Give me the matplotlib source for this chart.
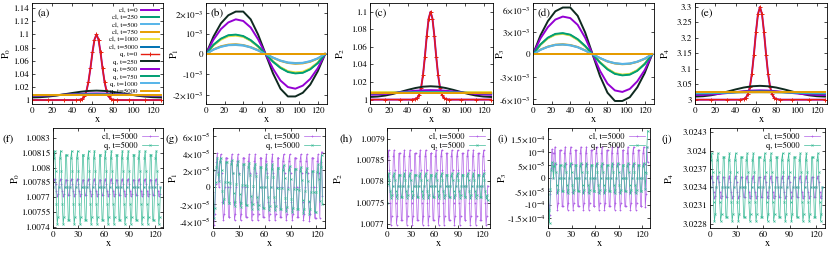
import numpy as np
import matplotlib.pyplot as plt

plt.rcParams['font.family'] = 'STIXGeneral'
plt.rcParams['mathtext.fontset'] = 'stix'

# ---------------- top row: profiles at several times ----------------
X_COARSE = [0, 8, 16, 24, 32, 40, 48, 56, 64, 72, 80, 88, 96, 104, 112, 120, 128]
X_PEAK = [0, 16, 32, 44, 48, 50, 52, 54, 56, 58, 60, 62, 64,
          66, 68, 70, 72, 74, 76, 78, 80, 84, 96, 112, 128]

LABELS = ['cl, t=0', 'cl, t=250', 'cl, t=500', 'cl, t=750', 'cl, t=1000', 'cl, t=5000',
          'q, t=0', 'q, t=250', 'q, t=500', 'q, t=750', 'q, t=1000', 'q, t=5000']
COLORS = ['#9400d3', '#009e73', '#56b4e9', '#e69f00', '#f0e442', '#0072b2',
          '#e51e10', '#0f2a20', '#9400d3', '#009e73', '#56b4e9', '#e69f00']

# (a) P0
A_Q0 = [1.0, 1.0, 1.0, 1.0, 1.0006, 1.002, 1.0056, 1.0135, 1.0278, 1.0487, 1.0726, 1.0923, 1.1,
        1.0923, 1.0726, 1.0487, 1.0278, 1.0135, 1.0056, 1.002, 1.0006, 1.0, 1.0, 1.0, 1.0]
A_CL250 = [1.0068, 1.0069, 1.0072, 1.0076, 1.0080, 1.0084, 1.0088, 1.0090, 1.0091,
           1.0090, 1.0088, 1.0084, 1.0080, 1.0076, 1.0072, 1.0069, 1.0068]
A_CL500 = [1.0074, 1.0074, 1.0075, 1.0077, 1.0079, 1.0081, 1.0083, 1.0084, 1.0084,
           1.0084, 1.0083, 1.0081, 1.0079, 1.0077, 1.0075, 1.0074, 1.0074]
A_CL750 = [1.0077, 1.0077, 1.0077, 1.0078, 1.0078, 1.0079, 1.0080, 1.0080, 1.0080,
           1.0080, 1.0080, 1.0079, 1.0078, 1.0078, 1.0077, 1.0077, 1.0077]
A_CL1000 = [1.0084, 1.0084, 1.0084, 1.0084, 1.0084, 1.0084, 1.0084, 1.0084, 1.0084,
            1.0084, 1.0084, 1.0084, 1.0084, 1.0084, 1.0084, 1.0084, 1.0084]
A_CL5000 = [1.0078, 1.0078, 1.0078, 1.0078, 1.0078, 1.0078, 1.0078, 1.0078, 1.0078,
            1.0078, 1.0078, 1.0078, 1.0078, 1.0078, 1.0078, 1.0078, 1.0078]
A_Q250 = [1.0040, 1.0044, 1.0053, 1.0068, 1.0088, 1.0108, 1.0126, 1.0139, 1.0144,
          1.0139, 1.0126, 1.0108, 1.0088, 1.0068, 1.0053, 1.0044, 1.0040]
A_Q500 = [1.0063, 1.0065, 1.0069, 1.0075, 1.0082, 1.0089, 1.0095, 1.0099, 1.0101,
          1.0099, 1.0095, 1.0089, 1.0082, 1.0075, 1.0069, 1.0065, 1.0063]
A_Q750 = [1.0072, 1.0073, 1.0074, 1.0076, 1.0079, 1.0082, 1.0084, 1.0086, 1.0086,
          1.0086, 1.0084, 1.0082, 1.0079, 1.0076, 1.0074, 1.0073, 1.0072]
A_Q1000 = [1.0076, 1.0076, 1.0077, 1.0077, 1.0078, 1.0079, 1.0080, 1.0081, 1.0081,
           1.0081, 1.0080, 1.0079, 1.0078, 1.0077, 1.0077, 1.0076, 1.0076]
A_Q5000 = [1.0078, 1.0078, 1.0078, 1.0078, 1.0078, 1.0078, 1.0078, 1.0078, 1.0078,
           1.0078, 1.0078, 1.0078, 1.0078, 1.0078, 1.0078, 1.0078, 1.0078]

# (c) P2
C_Q0 = [1.0, 1.0, 1.0, 1.0, 1.0006, 1.002, 1.0056, 1.0135, 1.0278, 1.0487, 1.0726, 1.0923, 1.1,
        1.0923, 1.0726, 1.0487, 1.0278, 1.0135, 1.0056, 1.002, 1.0006, 1.0, 1.0, 1.0, 1.0]
C_CL250 = [1.0067, 1.0068, 1.0071, 1.0076, 1.0080, 1.0085, 1.0089, 1.0091, 1.0092,
           1.0091, 1.0089, 1.0085, 1.0080, 1.0076, 1.0071, 1.0068, 1.0067]
C_CL500 = [1.0073, 1.0074, 1.0075, 1.0077, 1.0079, 1.0081, 1.0083, 1.0084, 1.0085,
           1.0084, 1.0083, 1.0081, 1.0079, 1.0077, 1.0075, 1.0074, 1.0073]
C_CL750 = [1.0077, 1.0077, 1.0077, 1.0078, 1.0078, 1.0079, 1.0080, 1.0080, 1.0080,
           1.0080, 1.0080, 1.0079, 1.0078, 1.0078, 1.0077, 1.0077, 1.0077]
C_CL1000 = [1.0085, 1.0085, 1.0085, 1.0085, 1.0085, 1.0085, 1.0085, 1.0085, 1.0085,
            1.0085, 1.0085, 1.0085, 1.0085, 1.0085, 1.0085, 1.0085, 1.0085]
C_CL5000 = [1.0078, 1.0078, 1.0078, 1.0078, 1.0078, 1.0078, 1.0078, 1.0078, 1.0078,
            1.0078, 1.0078, 1.0078, 1.0078, 1.0078, 1.0078, 1.0078, 1.0078]
C_Q250 = [1.0030, 1.0035, 1.0046, 1.0064, 1.0087, 1.0111, 1.0132, 1.0147, 1.0152,
          1.0147, 1.0132, 1.0111, 1.0087, 1.0064, 1.0046, 1.0035, 1.0030]
C_Q500 = [1.0055, 1.0058, 1.0064, 1.0073, 1.0083, 1.0093, 1.0101, 1.0106, 1.0108,
          1.0106, 1.0101, 1.0093, 1.0083, 1.0073, 1.0064, 1.0058, 1.0055]
C_Q750 = [1.0071, 1.0072, 1.0074, 1.0076, 1.0079, 1.0082, 1.0085, 1.0087, 1.0087,
          1.0087, 1.0085, 1.0082, 1.0079, 1.0076, 1.0074, 1.0072, 1.0071]
C_Q1000 = [1.0076, 1.0076, 1.0077, 1.0077, 1.0078, 1.0079, 1.0080, 1.0081, 1.0081,
           1.0081, 1.0080, 1.0079, 1.0078, 1.0077, 1.0077, 1.0076, 1.0076]
C_Q5000 = [1.0078, 1.0078, 1.0078, 1.0078, 1.0078, 1.0078, 1.0078, 1.0078, 1.0078,
           1.0078, 1.0078, 1.0078, 1.0078, 1.0078, 1.0078, 1.0078, 1.0078]

# (e) P4
E_Q0 = [3.0, 3.0, 3.0, 3.0, 3.0018, 3.006, 3.0168, 3.0405, 3.0834, 3.1461, 3.2178, 3.2769, 3.3,
        3.2769, 3.2178, 3.1461, 3.0834, 3.0405, 3.0168, 3.006, 3.0018, 3.0, 3.0, 3.0, 3.0]
E_CL250 = [3.0195, 3.0198, 3.0205, 3.0216, 3.0230, 3.0243, 3.0254, 3.0262, 3.0264,
           3.0262, 3.0254, 3.0243, 3.0230, 3.0216, 3.0205, 3.0198, 3.0195]
E_CL500 = [3.0215, 3.0216, 3.0219, 3.0224, 3.0230, 3.0236, 3.0241, 3.0244, 3.0245,
           3.0244, 3.0241, 3.0236, 3.0230, 3.0224, 3.0219, 3.0216, 3.0215]
E_CL750 = [3.0228, 3.0229, 3.0230, 3.0232, 3.0234, 3.0236, 3.0238, 3.0239, 3.0240,
           3.0239, 3.0238, 3.0236, 3.0234, 3.0232, 3.0230, 3.0229, 3.0228]
E_CL1000 = [3.0252, 3.0252, 3.0252, 3.0252, 3.0252, 3.0252, 3.0252, 3.0252, 3.0252,
            3.0252, 3.0252, 3.0252, 3.0252, 3.0252, 3.0252, 3.0252, 3.0252]
E_CL5000 = [3.0234, 3.0234, 3.0234, 3.0234, 3.0234, 3.0234, 3.0234, 3.0234, 3.0234,
            3.0234, 3.0234, 3.0234, 3.0234, 3.0234, 3.0234, 3.0234, 3.0234]
E_Q250 = [3.0100, 3.0112, 3.0143, 3.0195, 3.0262, 3.0332, 3.0393, 3.0434, 3.0448,
          3.0434, 3.0393, 3.0332, 3.0262, 3.0195, 3.0143, 3.0112, 3.0100]
E_Q500 = [3.0150, 3.0155, 3.0168, 3.0188, 3.0215, 3.0245, 3.0275, 3.0295, 3.0302,
          3.0295, 3.0275, 3.0245, 3.0215, 3.0188, 3.0168, 3.0155, 3.0150]
E_Q750 = [3.0200, 3.0202, 3.0208, 3.0218, 3.0230, 3.0243, 3.0255, 3.0264, 3.0267,
          3.0264, 3.0255, 3.0243, 3.0230, 3.0218, 3.0208, 3.0202, 3.0200]
E_Q1000 = [3.0222, 3.0223, 3.0225, 3.0229, 3.0233, 3.0238, 3.0242, 3.0245, 3.0246,
           3.0245, 3.0242, 3.0238, 3.0233, 3.0229, 3.0225, 3.0223, 3.0222]
E_Q5000 = [3.0234, 3.0234, 3.0234, 3.0234, 3.0234, 3.0234, 3.0234, 3.0234, 3.0234,
           3.0234, 3.0234, 3.0234, 3.0234, 3.0234, 3.0234, 3.0234, 3.0234]

# (b) P1, in units of 1e-3
ZERO = [0, 0, 0, 0, 0, 0, 0, 0, 0, 0, 0, 0, 0, 0, 0, 0, 0]
B_CL250 = [0, 0.44, 0.73, 0.90, 0.93, 0.86, 0.66, 0.37, 0, -0.37, -0.66, -0.86, -0.93, -0.90, -0.73, -0.44, 0]
B_CL500 = [0, 0.21, 0.35, 0.43, 0.44, 0.41, 0.32, 0.17, 0, -0.17, -0.32, -0.41, -0.44, -0.43, -0.35, -0.21, 0]
B_CL750 = [0, 0.23, 0.38, 0.46, 0.48, 0.44, 0.34, 0.19, 0, -0.19, -0.34, -0.44, -0.48, -0.46, -0.38, -0.23, 0]
B_CL1000 = [0, 0.42, 0.70, 0.87, 0.90, 0.84, 0.65, 0.36, 0, -0.36, -0.65, -0.84, -0.90, -0.87, -0.70, -0.42, 0]
B_Q250 = [0, 0.85, 1.50, 1.90, 2.08, 2.08, 1.70, 0.95, 0, -0.95, -1.70, -2.08, -2.08, -1.90, -1.50, -0.85, 0]
B_Q500 = [0, 0.70, 1.22, 1.55, 1.70, 1.62, 1.30, 0.72, 0, -0.72, -1.30, -1.62, -1.70, -1.55, -1.22, -0.70, 0]
B_Q750 = [0, 0.45, 0.75, 0.92, 0.95, 0.88, 0.68, 0.38, 0, -0.38, -0.68, -0.88, -0.95, -0.92, -0.75, -0.45, 0]
B_Q1000 = [0, 0.22, 0.36, 0.44, 0.46, 0.43, 0.33, 0.18, 0, -0.18, -0.33, -0.43, -0.46, -0.44, -0.36, -0.22, 0]

# (d) P3, in units of 1e-3
D_CL250 = [0, 1.28, 2.15, 2.65, 2.75, 2.55, 1.95, 1.08, 0, -1.08, -1.95, -2.55, -2.75, -2.65, -2.15, -1.28, 0]
D_CL500 = [0, 0.58, 0.98, 1.22, 1.28, 1.18, 0.92, 0.50, 0, -0.50, -0.92, -1.18, -1.28, -1.22, -0.98, -0.58, 0]
D_CL750 = [0, 0.62, 1.02, 1.27, 1.33, 1.23, 0.97, 0.52, 0, -0.52, -0.97, -1.23, -1.33, -1.27, -1.02, -0.62, 0]
D_CL1000 = [0, 1.25, 2.10, 2.60, 2.70, 2.50, 1.90, 1.05, 0, -1.05, -1.90, -2.50, -2.70, -2.60, -2.10, -1.25, 0]
D_Q250 = [0, 2.5, 4.4, 5.7, 6.2, 6.2, 5.1, 2.9, 0, -2.9, -5.1, -6.2, -6.2, -5.7, -4.4, -2.5, 0]
D_Q500 = [0, 2.1, 3.6, 4.6, 5.0, 4.8, 3.9, 2.2, 0, -2.2, -3.9, -4.8, -5.0, -4.6, -3.6, -2.1, 0]
D_Q750 = [0, 1.3, 2.2, 2.7, 2.8, 2.6, 2.0, 1.1, 0, -1.1, -2.0, -2.6, -2.8, -2.7, -2.2, -1.3, 0]
D_Q1000 = [0, 0.60, 1.00, 1.25, 1.30, 1.20, 0.95, 0.50, 0, -0.50, -0.95, -1.20, -1.30, -1.25, -1.00, -0.60, 0]

# ---------------- bottom row: t=5000, deviations in units of 1e-6 ----------------
X_FINE = np.arange(128)

F_BASE = 1.0078
F_Q_DEV = [0, 297, 370, 165, -165, -370, -297, 0, 297, 372, 165, -165, -368, -297, 0, 329, 330, 0, -329, -330,
           0, 296, 370, 164, -165, -371, -297, 0, 298, 370, 165, -164, -370, -296, 0, 330, 329, 0, -330, -329,
           0, 297, 369, 165, -166, -370, -297, 0, 297, 371, 166, -165, -369, -298, 0, 329, 331, 0, -329, -329,
           0, 298, 370, 165, -165, -370, -296, 0, 297, 370, 164, -166, -371, -297, 0, 328, 329, 0, -330, -331,
           0, 297, 371, 165, -164, -369, -297, 0, 296, 370, 165, -165, -370, -298, 0, 330, 330, 0, -329, -329,
           0, 297, 370, 166, -165, -371, -297, 0, 298, 369, 165, -165, -370, -297, 0, 329, 329, 0, -331, -330,
           0, 297, 370, 165, -165, -370, -297, 0]
F_CL_DEV = [0, 70, 88, 39, -39, -88, -70, 0, 70, 88, 39, -39, -88, -70, 0, 78, 78, 0, -78, -78,
            0, 70, 88, 39, -39, -88, -70, 0, 70, 89, 39, -39, -88, -70, 0, 78, 78, 0, -78, -78,
            0, 71, 88, 39, -39, -87, -70, 0, 70, 88, 39, -40, -88, -70, 0, 78, 79, 0, -78, -78,
            0, 70, 88, 39, -39, -88, -70, 0, 70, 88, 40, -39, -88, -71, 0, 78, 78, 0, -78, -79,
            0, 70, 87, 39, -39, -88, -70, 0, 70, 88, 39, -39, -89, -70, 0, 78, 78, 0, -78, -78,
            0, 70, 88, 39, -39, -88, -70, 0, 71, 88, 39, -39, -88, -70, 0, 79, 78, 0, -78, -78,
            0, 70, 88, 39, -39, -88, -70, 0]

G_BASE = 0.0
G_Q_DEV = [20, -36, -24, 6, 24, 35, 16, 8, 30, 35, 20, -4, -19, -14, 6, 30, 30, 6, -18, -18,
           5, 27, 32, 17, -7, -22, -17, 4, 26, 31, 16, -8, -23, -18, 3, 27, 27, 3, -21, -21,
           2, 24, 29, 14, -10, -25, -20, 1, 23, 28, 13, -11, -26, -21, 0, 24, 24, 0, -24, -24,
           0, 22, 27, 12, -12, -27, -22, 0, 22, 27, 12, -12, -27, -22, -1, 23, 23, -1, -25, -25,
           -1, 21, 26, 11, -13, -28, -23, -2, 20, 25, 10, -14, -29, -24, -2, 22, 22, -2, -26, -26,
           -3, 19, 24, 9, -15, -30, -25, -4, 18, 23, 8, -16, -31, -26, -5, 19, 19, -5, -29, -29,
           -5, 18, 27, 10, -16, 24, 38, -20]
G_CL_DEV = [-5, -45, -32, 4, 30, 40, 18, 0, 31, 39, 17, -17, -39, -31, 0, 35, 35, 0, -35, -35,
            0, 31, 39, 17, -17, -39, -31, 0, 31, 39, 17, -17, -39, -31, 0, 35, 35, 0, -35, -35,
            0, 31, 39, 17, -17, -39, -31, 0, 31, 39, 17, -17, -39, -31, 0, 35, 35, 0, -35, -35,
            0, 31, 39, 17, -17, -39, -31, 0, 31, 39, 17, -17, -39, -31, 0, 35, 35, 0, -35, -35,
            0, 31, 39, 17, -17, -39, -31, 0, 31, 39, 17, -17, -39, -31, 0, 35, 35, 0, -35, -35,
            0, 31, 39, 17, -17, -39, -31, 0, 31, 39, 17, -17, -40, -31, 0, 35, 35, 0, -36, -36,
            0, 31, 39, 17, -36, 30, 42, -10]

H_BASE = 1.00779
H_Q_DEV = [-40, 5, 29, 13, -13, -29, -23, 0, 23, 29, 13, -13, -29, -23, 0, 26, 26, 0, -26, -26,
           0, 23, 29, 13, -13, -29, -23, 0, 23, 29, 13, -13, -29, -23, 0, 26, 26, 0, -26, -26,
           0, 23, 29, 13, -13, -29, -23, 0, 23, 29, 13, -13, -29, -23, 0, 26, 26, 0, -26, -26,
           0, 23, 29, 13, -13, -29, -23, 0, 23, 29, 13, -13, -29, -23, 0, 26, 26, 0, -26, -26,
           0, 23, 29, 13, -13, -29, -23, 0, 23, 29, 13, -13, -29, -23, 0, 26, 26, 0, -26, -26,
           0, 23, 29, 13, -13, -29, -23, 0, 23, 29, 13, -13, -29, -23, 0, 26, 26, 0, -26, -26,
           0, 23, 29, 13, -13, -29, -23, -35]
H_CL_DEV = [0, 69, 84, 38, -40, -92, -72, 0, 69, 84, 38, -40, -92, -72, 0, 76, 76, 0, -80, -80,
            0, 69, 84, 38, -40, -92, -72, 0, 69, 84, 38, -40, -92, -72, 0, 76, 76, 0, -80, -80,
            0, 69, 84, 38, -40, -92, -72, 0, 69, 84, 38, -40, -92, -72, 0, 76, 76, 0, -80, -80,
            0, 69, 84, 38, -40, -92, -72, 0, 69, 84, 38, -40, -92, -72, 0, 76, 76, 0, -80, -80,
            0, 69, 84, 38, -40, -92, -72, 0, 69, 84, 38, -40, -92, -72, 0, 76, 76, 0, -80, -80,
            0, 69, 84, 38, -40, -92, -72, 0, 69, 84, 38, -40, -92, -72, 0, 76, 76, 0, -80, -80,
            0, 69, 84, 38, -40, -92, -72, 0]

I_BASE = 0.0
I_Q_DEV = [-60, -120, -170, -40, 30, 60, 45, 0, 45, 57, 25, -25, -57, -45, 0, 50, 50, 0, -50, -50,
           0, 45, 57, 25, -25, -57, -45, 0, 45, 57, 25, -25, -57, -45, 0, 50, 50, 0, -50, -50,
           0, 45, 57, 25, -25, -57, -45, 0, 45, 57, 25, -25, -57, -45, 0, 50, 50, 0, -50, -50,
           0, 45, 57, 25, -25, -57, -45, 0, 45, 57, 25, -25, -57, -45, 0, 50, 50, 0, -50, -50,
           0, 45, 57, 25, -25, -57, -45, 0, 45, 57, 25, -25, -57, -45, 0, 50, 50, 0, -50, -50,
           0, 45, 57, 25, -25, -57, -45, 0, 45, 57, 25, -25, -57, -45, 0, 50, 50, 0, -50, -50,
           0, 45, 57, 25, -40, 20, 120, 180]
I_CL_DEV = [-40, -100, -140, -60, 40, 110, 95, 0, 95, 119, 53, -53, -119, -95, 0, 106, 106, 0, -106, -106,
            0, 95, 119, 53, -53, -119, -95, 0, 95, 119, 53, -53, -119, -95, 0, 106, 106, 0, -106, -106,
            0, 95, 119, 53, -53, -119, -95, 0, 95, 119, 53, -53, -119, -95, 0, 106, 106, 0, -106, -106,
            0, 95, 119, 53, -53, -119, -95, 0, 95, 119, 53, -53, -119, -95, 0, 106, 106, 0, -106, -106,
            0, 95, 119, 53, -53, -119, -95, 0, 95, 119, 53, -53, -119, -95, 0, 106, 106, 0, -106, -106,
            0, 95, 119, 53, -53, -119, -95, 0, 95, 119, 53, -53, -119, -95, 0, 106, 106, 0, -106, -106,
            0, 95, 119, 53, -110, -60, 120, 60]

J_BASE = 3.0234
J_Q_DEV = [0, 446, 556, 247, -247, -556, -446, 0, 446, 556, 247, -247, -556, -446, 0, 494, 494, 0, -494, -494,
           0, 446, 556, 247, -247, -556, -446, 0, 446, 556, 247, -247, -556, -446, 0, 494, 494, 0, -494, -494,
           0, 446, 556, 247, -247, -556, -446, 0, 446, 556, 247, -247, -556, -446, 0, 494, 494, 0, -494, -494,
           0, 446, 556, 247, -247, -556, -446, 0, 446, 556, 247, -247, -556, -446, 0, 494, 494, 0, -494, -494,
           0, 446, 556, 247, -247, -556, -446, 0, 446, 556, 247, -247, -556, -446, 0, 494, 494, 0, -494, -494,
           0, 446, 556, 247, -247, -556, -446, 0, 446, 556, 247, -247, -556, -446, 0, 494, 494, 0, -494, -494,
           0, 446, 556, 247, -247, -556, -446, 0]
J_CL_DEV = [0, 149, 185, 82, -82, -185, -149, 0, 149, 185, 82, -82, -185, -149, 0, 165, 165, 0, -165, -165,
            0, 149, 185, 82, -82, -185, -149, 0, 149, 185, 82, -82, -185, -149, 0, 165, 165, 0, -165, -165,
            0, 149, 185, 82, -82, -185, -149, 0, 149, 185, 82, -82, -185, -149, 0, 165, 165, 0, -165, -165,
            0, 149, 185, 82, -82, -185, -149, 0, 149, 185, 82, -82, -185, -149, 0, 165, 165, 0, -165, -165,
            0, 149, 185, 82, -82, -185, -149, 0, 149, 185, 82, -82, -185, -149, 0, 165, 165, 0, -165, -165,
            0, 149, 185, 82, -82, -185, -149, 0, 149, 185, 82, -82, -185, -149, 0, 165, 165, 0, -165, -165,
            0, 149, 185, 82, -82, -185, -149, 0]

# tick positions / labels
TOP_XTICKS = [0, 20, 40, 60, 80, 100, 120]
BOT_XTICKS = [0, 30, 60, 90, 120]
A_YTICKS = [1, 1.02, 1.04, 1.06, 1.08, 1.1, 1.12, 1.14]
C_YTICKS = [1, 1.02, 1.04, 1.06, 1.08, 1.1]
E_YTICKS = [3, 3.05, 3.1, 3.15, 3.2, 3.25, 3.3]
B_YTICKS = [-2e-3, -1e-3, 0, 1e-3, 2e-3]
B_YLABELS = ['-2×10$^{-3}$', '-10$^{-3}$', '0', '10$^{-3}$', '2×10$^{-3}$']
D_YTICKS = [-6e-3, -3e-3, 0, 3e-3, 6e-3]
D_YLABELS = ['-6×10$^{-3}$', '-3×10$^{-3}$', '0', '3×10$^{-3}$', '6×10$^{-3}$']
F_YTICKS = [1.0074, 1.00755, 1.0077, 1.00785, 1.008, 1.00815, 1.0083]
G_YTICKS = [-4e-5, -2e-5, 0, 2e-5, 4e-5, 6e-5]
G_YLABELS = ['-4×10$^{-5}$', '-2×10$^{-5}$', '0', '2×10$^{-5}$', '4×10$^{-5}$', '6×10$^{-5}$']
H_YTICKS = [1.0077, 1.00775, 1.0078, 1.00785, 1.0079]
I_YTICKS = [-1.5e-4, -1e-4, -5e-5, 0, 5e-5, 1e-4, 1.5e-4]
I_YLABELS = ['-1.5×10$^{-4}$', '-10$^{-4}$', '-5×10$^{-5}$', '0', '5×10$^{-5}$', '10$^{-4}$', '1.5×10$^{-4}$']
J_YTICKS = [3.0228, 3.0231, 3.0234, 3.0237, 3.024, 3.0243]

W, H = 830, 254
fig = plt.figure(figsize=(W / 100, H / 100), dpi=100)


def add_ax(l, r, t, b):
    return fig.add_axes([l / W, 1 - b / H, (r - l) / W, (b - t) / H])


def style(ax, xticks, yticks, ylabels, ylim, ylabel, label_x, xlim=(0, 130)):
    ax.set_xlim(*xlim)
    ax.set_ylim(*ylim)
    ax.set_xticks(xticks)
    ax.set_xticklabels([str(v) for v in xticks])
    ax.set_yticks(yticks)
    if ylabels is None:
        ylabels = ['%g' % v for v in yticks]
    ax.set_yticklabels(ylabels)
    ax.tick_params(direction='in', length=2.5, width=0.5, top=True, right=True,
                   labelsize=6.5, pad=2)
    for s in ax.spines.values():
        s.set_linewidth(0.6)
    ax.set_xlabel('x', fontsize=7.5, labelpad=0)
    ax.set_ylabel(ylabel, fontsize=7.5)
    # label_x: right edge of the rotated label, in figure pixels
    x0 = ax.get_position().x0 * W
    ax.yaxis.set_label_coords((label_x - x0) / (ax.get_position().width * W), 0.5)


def draw_top(ax, series, scale=1.0, peak_markers=True):
    for i, (xs, ys) in enumerate(series):
        kw = dict(color=COLORS[i], lw=1.4)
        if LABELS[i] == 'q, t=0' and peak_markers:
            kw.update(marker='+', ms=3, mew=0.7, lw=1.0)
        ax.plot(xs, np.array(ys) * scale, label=LABELS[i], **kw)


# (a)
ax = add_ax(32, 163, 3, 104)
draw_top(ax, [(X_PEAK, A_Q0), (X_COARSE, A_CL250), (X_COARSE, A_CL500), (X_COARSE, A_CL750),
              (X_COARSE, A_CL1000), (X_COARSE, A_CL5000), (X_PEAK, A_Q0), (X_COARSE, A_Q250),
              (X_COARSE, A_Q500), (X_COARSE, A_Q750), (X_COARSE, A_Q1000), (X_COARSE, A_Q5000)])
style(ax, TOP_XTICKS, A_YTICKS, None, (0.994, 1.148), 'P$_0$', 13)
leg = ax.legend(loc='upper right', fontsize=5, frameon=False, markerfirst=False,
                handlelength=2.6, labelspacing=0.22, borderaxespad=0.2, handletextpad=0.5)
for col in leg._legend_handle_box.get_children():
    col.align = 'right'
ax.text(0.04, 0.95, '(a)', transform=ax.transAxes, fontsize=8, va='top')

# (b)
ax = add_ax(206, 327, 3, 104)
draw_top(ax, [(X_COARSE, ZERO), (X_COARSE, B_CL250), (X_COARSE, B_CL500), (X_COARSE, B_CL750),
              (X_COARSE, B_CL1000), (X_COARSE, ZERO), (X_COARSE, ZERO), (X_COARSE, B_Q250),
              (X_COARSE, B_Q500), (X_COARSE, B_Q750), (X_COARSE, B_Q1000), (X_COARSE, ZERO)],
         1e-3, peak_markers=False)
style(ax, TOP_XTICKS, B_YTICKS, B_YLABELS, (-2.45e-3, 2.5e-3), 'P$_1$', 181)
ax.text(0.04, 0.95, '(b)', transform=ax.transAxes, fontsize=8, va='top')

# (c)
ax = add_ax(370, 493, 3, 104)
draw_top(ax, [(X_PEAK, C_Q0), (X_COARSE, C_CL250), (X_COARSE, C_CL500), (X_COARSE, C_CL750),
              (X_COARSE, C_CL1000), (X_COARSE, C_CL5000), (X_PEAK, C_Q0), (X_COARSE, C_Q250),
              (X_COARSE, C_Q500), (X_COARSE, C_Q750), (X_COARSE, C_Q1000), (X_COARSE, C_Q5000)])
style(ax, TOP_XTICKS, C_YTICKS, None, (0.995, 1.11), 'P$_2$', 347)
ax.text(0.04, 0.95, '(c)', transform=ax.transAxes, fontsize=8, va='top')

# (d)
ax = add_ax(533, 654, 3, 104)
draw_top(ax, [(X_COARSE, ZERO), (X_COARSE, D_CL250), (X_COARSE, D_CL500), (X_COARSE, D_CL750),
              (X_COARSE, D_CL1000), (X_COARSE, ZERO), (X_COARSE, ZERO), (X_COARSE, D_Q250),
              (X_COARSE, D_Q500), (X_COARSE, D_Q750), (X_COARSE, D_Q1000), (X_COARSE, ZERO)],
         1e-3, peak_markers=False)
style(ax, TOP_XTICKS, D_YTICKS, D_YLABELS, (-6.6e-3, 6.8e-3), 'P$_3$', 507)
ax.text(0.04, 0.95, '(d)', transform=ax.transAxes, fontsize=8, va='top')

# (e)
ax = add_ax(695, 827, 3, 104)
draw_top(ax, [(X_PEAK, E_Q0), (X_COARSE, E_CL250), (X_COARSE, E_CL500), (X_COARSE, E_CL750),
              (X_COARSE, E_CL1000), (X_COARSE, E_CL5000), (X_PEAK, E_Q0), (X_COARSE, E_Q250),
              (X_COARSE, E_Q500), (X_COARSE, E_Q750), (X_COARSE, E_Q1000), (X_COARSE, E_Q5000)])
style(ax, TOP_XTICKS, E_YTICKS, None, (2.986, 3.313), 'P$_4$', 672)
ax.text(0.04, 0.95, '(e)', transform=ax.transAxes, fontsize=8, va='top')

# bottom row
CL_COLOR = '#b060e6'
Q_COLOR = '#3dbb98'
bottom = [
    ('(f)', (53, 163), 2, 22, F_BASE, F_CL_DEV, F_Q_DEV, F_YTICKS, None, (1.00739, 1.0084), 'P$_0$'),
    ('(g)', (213, 325), 165, 180, G_BASE, G_CL_DEV, G_Q_DEV, G_YTICKS, G_YLABELS, (-4.8e-5, 7.0e-5), 'P$_1$'),
    ('(h)', (387, 490), 339, 345, H_BASE, H_CL_DEV, H_Q_DEV, H_YTICKS, None, (1.00769, 1.007926), 'P$_2$'),
    ('(i)', (548, 650), 497, 509, I_BASE, I_CL_DEV, I_Q_DEV, I_YTICKS, I_YLABELS, (-1.88e-4, 1.9e-4), 'P$_3$'),
    ('(j)', (710, 825), 661, 676, J_BASE, J_CL_DEV, J_Q_DEV, J_YTICKS, None, (3.02273, 3.02437), 'P$_4$'),
]
for tag, (l, r), tx, lx, base, cl_dev, q_dev, yt, yl, ylim, ylab in bottom:
    ax = add_ax(l, r, 128, 228)
    ax.plot(X_FINE, base + np.array(cl_dev) * 1e-6, color=CL_COLOR, lw=0.5,
            marker='+', ms=1.6, mew=0.5, label='cl, t=5000')
    ax.plot(X_FINE, base + np.array(q_dev) * 1e-6, color=Q_COLOR, lw=0.5,
            marker='x', ms=1.4, mew=0.5, label='q, t=5000')
    style(ax, BOT_XTICKS, yt, yl, ylim, ylab, lx)
    ax.legend(loc='upper right', fontsize=6, frameon=False, markerfirst=False,
              handlelength=2.0, labelspacing=0.1, borderaxespad=0.15, handletextpad=0.5)
    fig.text(tx / W, 1 - 134 / H, tag, fontsize=8, va='top')

fig.savefig('out.png', dpi=100)
